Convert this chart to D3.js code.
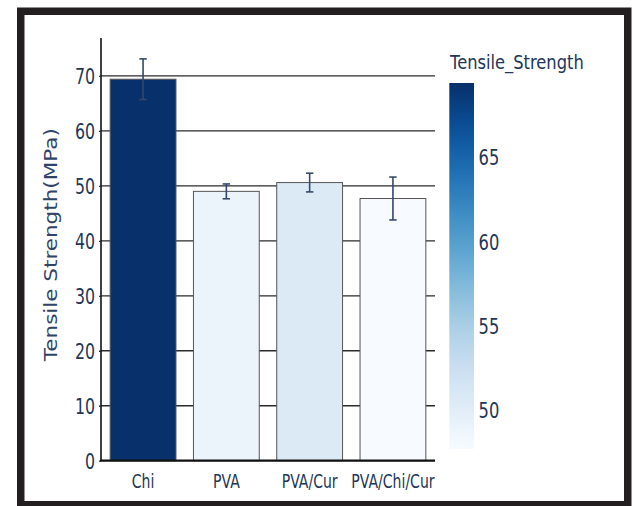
<!DOCTYPE html>
<html>
<head>
<meta charset="utf-8">
<script src="https://cdn.jsdelivr.net/npm/d3@7"></script>
<style>
  html, body { margin: 0; padding: 0; background: #fff; }
  svg { display: block; }
  text { font-family: "DejaVu Sans", Verdana, sans-serif; fill: #223657; }
</style>
</head>
<body>
<svg id="chart" width="633" height="506"></svg>
<script>
// Tensile strength of the film samples (MPa), with standard deviations
const categories = ["Chi", "PVA", "PVA/Cur", "PVA/Chi/Cur"];
const strength = [69.4, 49.0, 50.6, 47.7];
const strengthErr = [3.7, 1.35, 1.7, 3.9];
const yTicks = [0, 10, 20, 30, 40, 50, 60, 70];
const colorTicks = [50, 55, 60, 65];
const yTitle = "Tensile Strength(MPa)";
const colorTitle = "Tensile_Strength";

const svg = d3.select("#chart");

// outer frame
svg.append("rect")
  .attr("x", 20.75).attr("y", 11.25)
  .attr("width", 607).attr("height", 493.5)
  .attr("fill", "#fff")
  .attr("stroke", "#231f20").attr("stroke-width", 7.5);

const plot = { left: 101, right: 435, top: 38, bottom: 460.7 };

const x = d3.scaleBand()
  .domain(categories)
  .range([plot.left, plot.right])
  .paddingInner(0.21)
  .paddingOuter(0.11);

const y = d3.scaleLinear()
  .domain([0, 76.9])
  .range([plot.bottom, plot.top]);

const color = d3.scaleSequential(d3.interpolateBlues)
  .domain([d3.min(strength), d3.max(strength)]);

// horizontal grid lines
svg.append("g")
  .selectAll("line")
  .data(yTicks.filter(d => d > 0))
  .join("line")
  .attr("x1", plot.left).attr("x2", plot.right)
  .attr("y1", d => y(d)).attr("y2", d => y(d))
  .attr("stroke", "#2b2b2b").attr("stroke-width", 1.3);

// bars
const rows = categories.map((c, i) => ({ c, v: strength[i], e: strengthErr[i] }));
svg.append("g")
  .selectAll("rect")
  .data(rows)
  .join("rect")
  .attr("x", d => x(d.c))
  .attr("width", x.bandwidth())
  .attr("y", d => y(d.v))
  .attr("height", d => y(0) - y(d.v))
  .attr("fill", d => color(d.v))
  .attr("stroke", "#555")
  .attr("stroke-width", 1);

// error bars
const eb = svg.append("g")
  .attr("stroke", "#34496b").attr("stroke-width", 1.6).attr("fill", "none");
rows.forEach(d => {
  const cx = x(d.c) + x.bandwidth() / 2;
  const y1 = y(d.v + d.e), y2 = y(d.v - d.e);
  eb.append("line").attr("x1", cx).attr("x2", cx).attr("y1", y1).attr("y2", y2);
  eb.append("line").attr("x1", cx - 3.7).attr("x2", cx + 3.7).attr("y1", y1).attr("y2", y1);
  eb.append("line").attr("x1", cx - 3.7).attr("x2", cx + 3.7).attr("y1", y2).attr("y2", y2);
});

// y axis
const yAxis = svg.append("g")
  .attr("transform", `translate(${plot.left},0)`)
  .call(d3.axisLeft(y).tickValues(yTicks).tickSize(2).tickSizeOuter(0).tickFormat(d3.format("d")));
yAxis.select(".domain").attr("stroke", "#111").attr("stroke-width", 1.6)
  .attr("d", `M0,${plot.top}V${plot.bottom}`);
yAxis.selectAll(".tick line").attr("stroke", "#2b2b2b").attr("stroke-width", 1.3);
const ySq = 0.77;
yAxis.selectAll(".tick text")
  .attr("x", -6 / ySq)
  .attr("dy", "0.36em")
  .attr("transform", `scale(${ySq},1)`)
  .style("font-size", "20.5px")
  .style("fill", "#223657");

// x axis
const xAxis = svg.append("g")
  .attr("transform", `translate(0,${plot.bottom})`)
  .call(d3.axisBottom(x).tickSize(0).tickSizeOuter(0));
xAxis.select(".domain").attr("stroke", "#111").attr("stroke-width", 2.2)
  .attr("d", `M${plot.left - 1},0H${plot.right}`);
const xSq = 0.72;
xAxis.selectAll(".tick").each(function () {
  const t = d3.select(this).select("text");
  t.attr("y", 27).attr("dy", null)
    .attr("x", 0)
    .attr("transform", `scale(${xSq},1)`)
    .style("font-size", "19.5px")
    .style("fill", "#223657");
});

// y axis title
svg.append("text")
  .attr("transform", `translate(56.5,${244.7}) scale(0.83,1) rotate(-90)`)
  .attr("text-anchor", "middle")
  .style("font-size", "21.5px")
  .style("fill", "#2f4468")
  .text(yTitle);

// colour bar
const cb = { x: 449.3, w: 24.7, top: 83, bottom: 449 };
const cScale = d3.scaleLinear().domain(color.domain()).range([cb.bottom, cb.top]);
const defs = svg.append("defs");
const grad = defs.append("linearGradient")
  .attr("id", "cbGrad").attr("x1", 0).attr("y1", 1).attr("x2", 0).attr("y2", 0);
d3.range(0, 1.0001, 0.05).forEach(t => {
  grad.append("stop").attr("offset", t).attr("stop-color", d3.interpolateBlues(t));
});
svg.append("rect")
  .attr("x", cb.x).attr("y", cb.top)
  .attr("width", cb.w).attr("height", cb.bottom - cb.top)
  .attr("fill", "url(#cbGrad)");

const cAxis = svg.append("g")
  .attr("transform", `translate(${cb.x + cb.w},0)`)
  .call(d3.axisRight(cScale).tickValues(colorTicks).tickSize(0).tickFormat(d3.format("d")));
cAxis.select(".domain").remove();
const cSq = 0.76;
cAxis.selectAll(".tick text")
  .attr("x", 4.5 / cSq)
  .attr("dy", "0.36em")
  .attr("transform", `scale(${cSq},1)`)
  .style("font-size", "21.5px")
  .style("fill", "#223657");

svg.append("text")
  .attr("transform", `translate(450,69) scale(0.815,1)`)
  .style("font-size", "20px")
  .style("fill", "#223657")
  .text(colorTitle);
</script>
</body>
</html>
